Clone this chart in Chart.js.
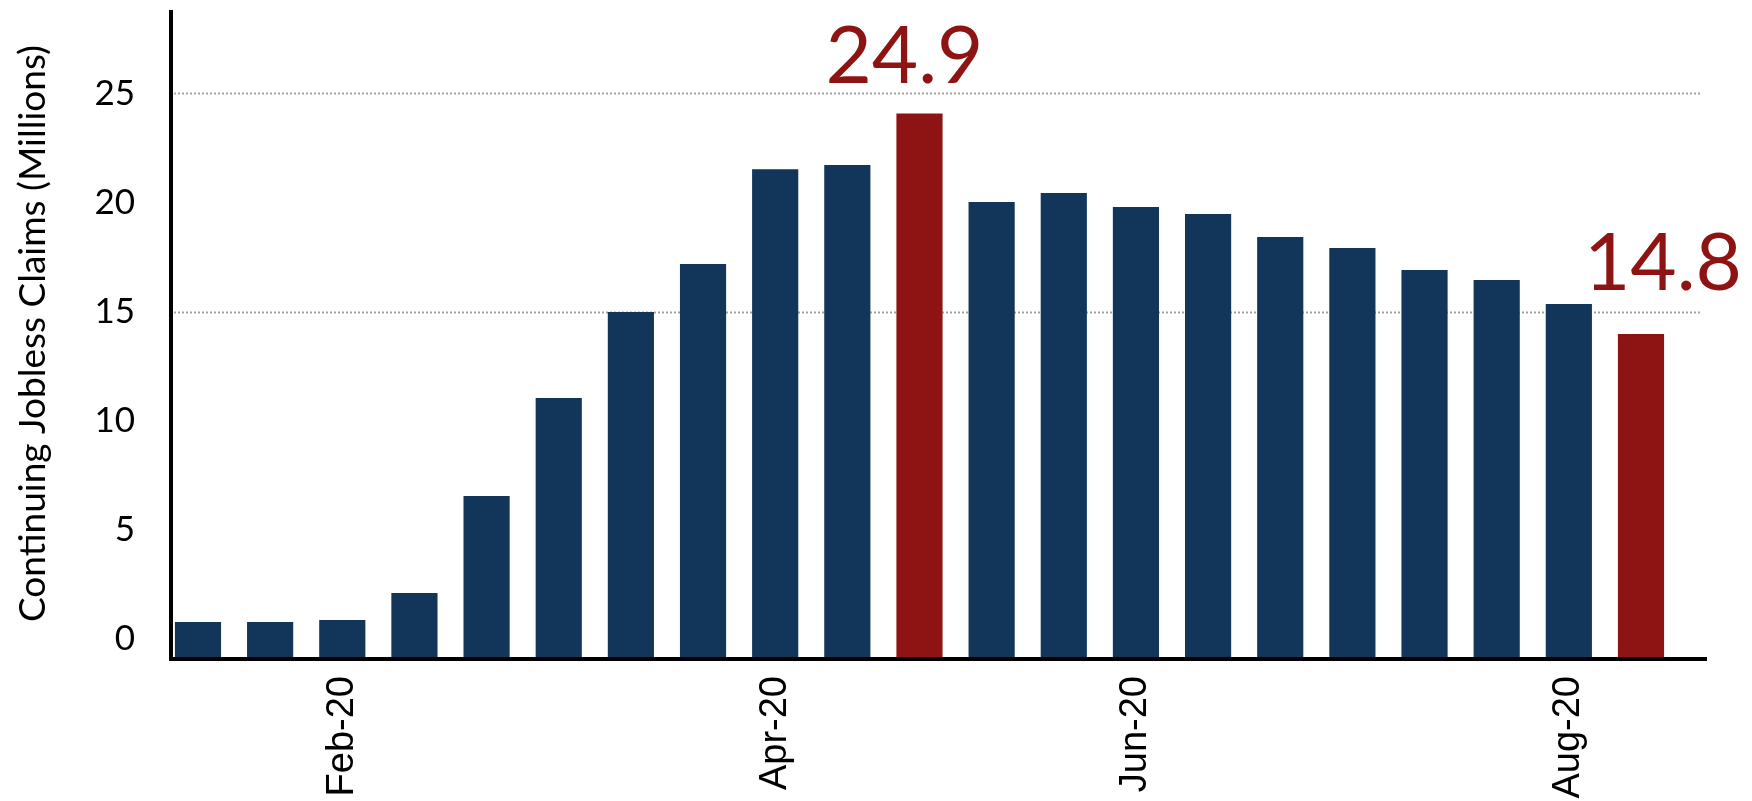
<!DOCTYPE html>
<html>
<head>
<meta charset="utf-8">
<script src="https://cdn.jsdelivr.net/npm/chart.js@4/dist/chart.umd.min.js"></script>
<style>
  html, body { margin: 0; padding: 0; background: #ffffff; }
  #wrap { width: 1752px; height: 801px; }
</style>
</head>
<body>
<div id="wrap"><canvas id="chart" width="1752" height="801"></canvas></div>
<script>
// Weekly continuing jobless claims, millions
const claims = [1.60, 1.60, 1.69, 2.93, 7.37, 11.86, 15.80, 18.00, 22.35, 22.54, 24.90,
                20.84, 21.26, 20.61, 20.29, 19.24, 18.74, 17.73, 17.27, 16.17, 14.80];
// Weeks whose value is called out in large red type
const calloutWeeks = [10, 20];
// Month labels on the x axis and the week each one sits under
const monthLabels = ['Feb-20', 'Apr-20', 'Jun-20', 'Aug-20'];
const monthLabelWeeks = [2, 8, 13, 19];
// Y axis tick values and the dotted reference lines
const yTicks = [0, 5, 10, 15, 20, 25];
const refLines = [15, 25];

const NAVY = '#12355a';
const RED = '#8e1414';
const TICK_SHIFT = -18;

const points = claims.map((v, i) => ({ x: i, y: v }));
const barColors = claims.map((v, i) => calloutWeeks.includes(i) ? RED : NAVY);

// Dotted reference lines behind the bars
const refLinePlugin = {
  id: 'refLines',
  beforeDatasetsDraw(chart) {
    const { ctx, chartArea, scales } = chart;
    ctx.save();
    ctx.strokeStyle = '#a3a3a3';
    ctx.lineWidth = 2;
    ctx.setLineDash([2, 2]);
    refLines.forEach(v => {
      const y = Math.round(scales.y.getPixelForValue(v) + TICK_SHIFT) + 0.5;
      ctx.beginPath();
      ctx.moveTo(chartArea.left + 3, y);
      ctx.lineTo(chartArea.right - 6, y);
      ctx.stroke();
    });
    ctx.restore();
  }
};

// Heavy black axis lines drawn over the bar bases
const axisPlugin = {
  id: 'axisLines',
  afterDatasetsDraw(chart) {
    const { ctx, chartArea } = chart;
    ctx.save();
    ctx.strokeStyle = '#000000';
    ctx.lineWidth = 4;
    ctx.beginPath();
    ctx.moveTo(chartArea.left, chartArea.top);
    ctx.lineTo(chartArea.left, chartArea.bottom + 4);
    ctx.moveTo(chartArea.left - 2, chartArea.bottom + 2);
    ctx.lineTo(chartArea.right, chartArea.bottom + 2);
    ctx.stroke();
    ctx.restore();
  }
};

// Large value callouts above the highlighted bars
const calloutPlugin = {
  id: 'callouts',
  afterDatasetsDraw(chart, args, opts) {
    const { ctx } = chart;
    const meta = chart.getDatasetMeta(0);
    ctx.save();
    ctx.fillStyle = RED;
    ctx.font = '80px Lato, "Noto Sans", sans-serif';
    ctx.textAlign = 'center';
    ctx.textBaseline = 'alphabetic';
    calloutWeeks.forEach((w, k) => {
      const bar = meta.data[w];
      const off = opts.offsets[k];
      ctx.fillText(claims[w].toFixed(1), bar.x + off.dx, bar.y + off.dy);
    });
    ctx.restore();
  }
};

new Chart(document.getElementById('chart'), {
  type: 'bar',
  data: {
    datasets: [{
      data: points,
      backgroundColor: barColors,
      borderWidth: 0,
      barPercentage: 0.64,
      categoryPercentage: 1.0
    }]
  },
  options: {
    responsive: false,
    animation: false,
    devicePixelRatio: 1,
    layout: { padding: { top: 10, right: 45, left: 0, bottom: 0 } },
    plugins: {
      legend: { display: false },
      tooltip: { enabled: false },
      callouts: { offsets: [{ dx: -15, dy: -30 }, { dx: 22, dy: -44 }] }
    },
    scales: {
      x: {
        type: 'linear',
        offset: false,
        min: -0.374,
        max: 20.915,
        grid: { display: false, drawTicks: false, offset: false },
        border: { display: false },
        afterBuildTicks(scale) {
          scale.ticks = monthLabelWeeks.map(w => ({ value: w }));
        },
        afterFit(scale) {
          scale.height = 144;
          scale.paddingLeft = 0;
          scale.paddingRight = 0;
        },
        ticks: {
          autoSkip: false,
          minRotation: 90,
          maxRotation: 90,
          padding: 19,
          color: '#000000',
          font: { family: '"Liberation Sans", Arial, sans-serif', size: 38 },
          callback(value) {
            const k = monthLabelWeeks.indexOf(value);
            return k >= 0 ? monthLabels[k] : '';
          }
        }
      },
      y: {
        min: 0,
        max: 29.64,
        grid: { display: false, drawTicks: false },
        border: { display: false },
        afterBuildTicks(scale) {
          scale.ticks = yTicks.map(v => ({ value: v }));
        },
        afterFit(scale) {
          scale.width = 171;
          scale.paddingTop = 0;
          scale.paddingBottom = 0;
        },
        ticks: {
          padding: 36,
          labelOffset: TICK_SHIFT,
          color: '#000000',
          font: { family: 'Lato, "Noto Sans", sans-serif', size: 35 }
        },
        title: {
          display: true,
          text: 'Continuing Jobless Claims (Millions)',
          color: '#000000',
          font: { family: 'Lato, "Noto Sans", sans-serif', size: 37 },
          padding: { top: 11, bottom: 0 }
        }
      }
    }
  },
  plugins: [refLinePlugin, axisPlugin, calloutPlugin]
});
</script>
</body>
</html>
